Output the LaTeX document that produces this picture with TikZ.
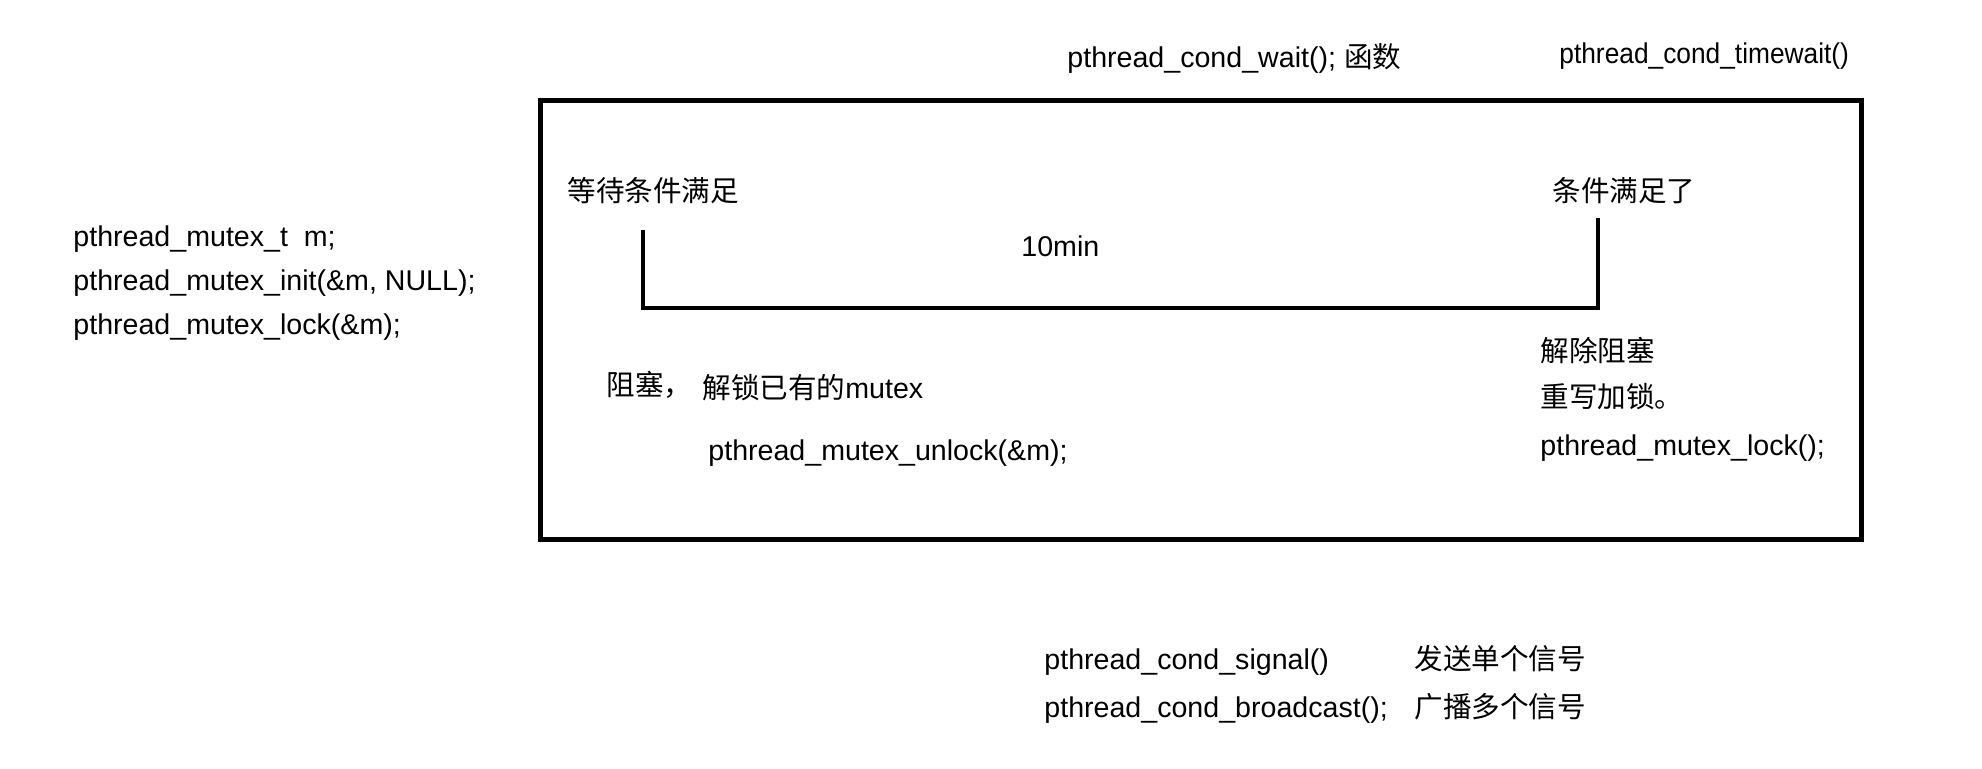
\documentclass[tikz,border=0pt]{standalone}
\usepackage{fontspec}
\setmainfont{Liberation Sans}
\newfontfamily\cjk{Noto Sans CJK SC}
\newcommand{\zh}[1]{{\cjk #1}}
\begin{document}
\begin{tikzpicture}[x=0.5pt,y=-0.5pt,
  txt/.style={anchor=west,inner sep=0pt,text height=0.75em,text depth=0.25em,
    yshift=-2.3pt,font=\fontsize{14.3}{17}\selectfont},
  frame/.style={draw=black,line width=2.5pt},
  bracket/.style={draw=black,line width=2.1pt,line join=miter}]
\useasboundingbox (0,0) rectangle (1982,768);
% frame
\coordinate (boxtl) at (540,100);
\coordinate (boxbr) at (1861,539);
\draw[frame] (boxtl) rectangle (boxbr);
% bracket
\coordinate (bl1) at (643,230);
\coordinate (bl2) at (643,308);
\coordinate (br2) at (1598,308);
\coordinate (br1) at (1598,218);
\draw[bracket] (bl1) -- (bl2) -- (br2) -- (br1);
% top labels
\node[txt] (wait) at (1067,58) {pthread\_cond\_wait(); \zh{函数}};
\node[txt] (timewait) at (1559,54) {\scalebox{0.92}[1]{pthread\_cond\_timewait()}};
% left code
\node[txt] (l1) at (73,237) {pthread\_mutex\_t\ \ m;};
\node[txt] (l2) at (73,281) {pthread\_mutex\_init(\&m, NULL);};
\node[txt] (l3) at (73,325) {pthread\_mutex\_lock(\&m);};
% inside box
\node[txt] (wcond) at (567,192) {\zh{等待条件满足}};
\node[txt] (cmet) at (1552,192) {\zh{条件满足了}};
\node[txt] (tmin) at (1021,247) {10min};
\node[txt] (blk) at (606,386) {\zh{阻塞，}};
\node[txt] (unl) at (702,389) {\zh{解锁已有的}mutex};
\node[txt] (unlf) at (708,451) {pthread\_mutex\_unlock(\&m);};
\node[txt] (ublk) at (1540,352) {\zh{解除阻塞}};
\node[txt] (relk) at (1540,398) {\zh{重写加锁。}};
\node[txt] (lkf) at (1540,446) {pthread\_mutex\_lock();};
% bottom
\node[txt] (sig) at (1044,660) {pthread\_cond\_signal()};
\node[txt] (sigzh) at (1414,660) {\zh{发送单个信号}};
\node[txt] (bc) at (1044,708) {pthread\_cond\_broadcast();};
\node[txt] (bczh) at (1414,708) {\zh{广播多个信号}};
\end{tikzpicture}
\end{document}
